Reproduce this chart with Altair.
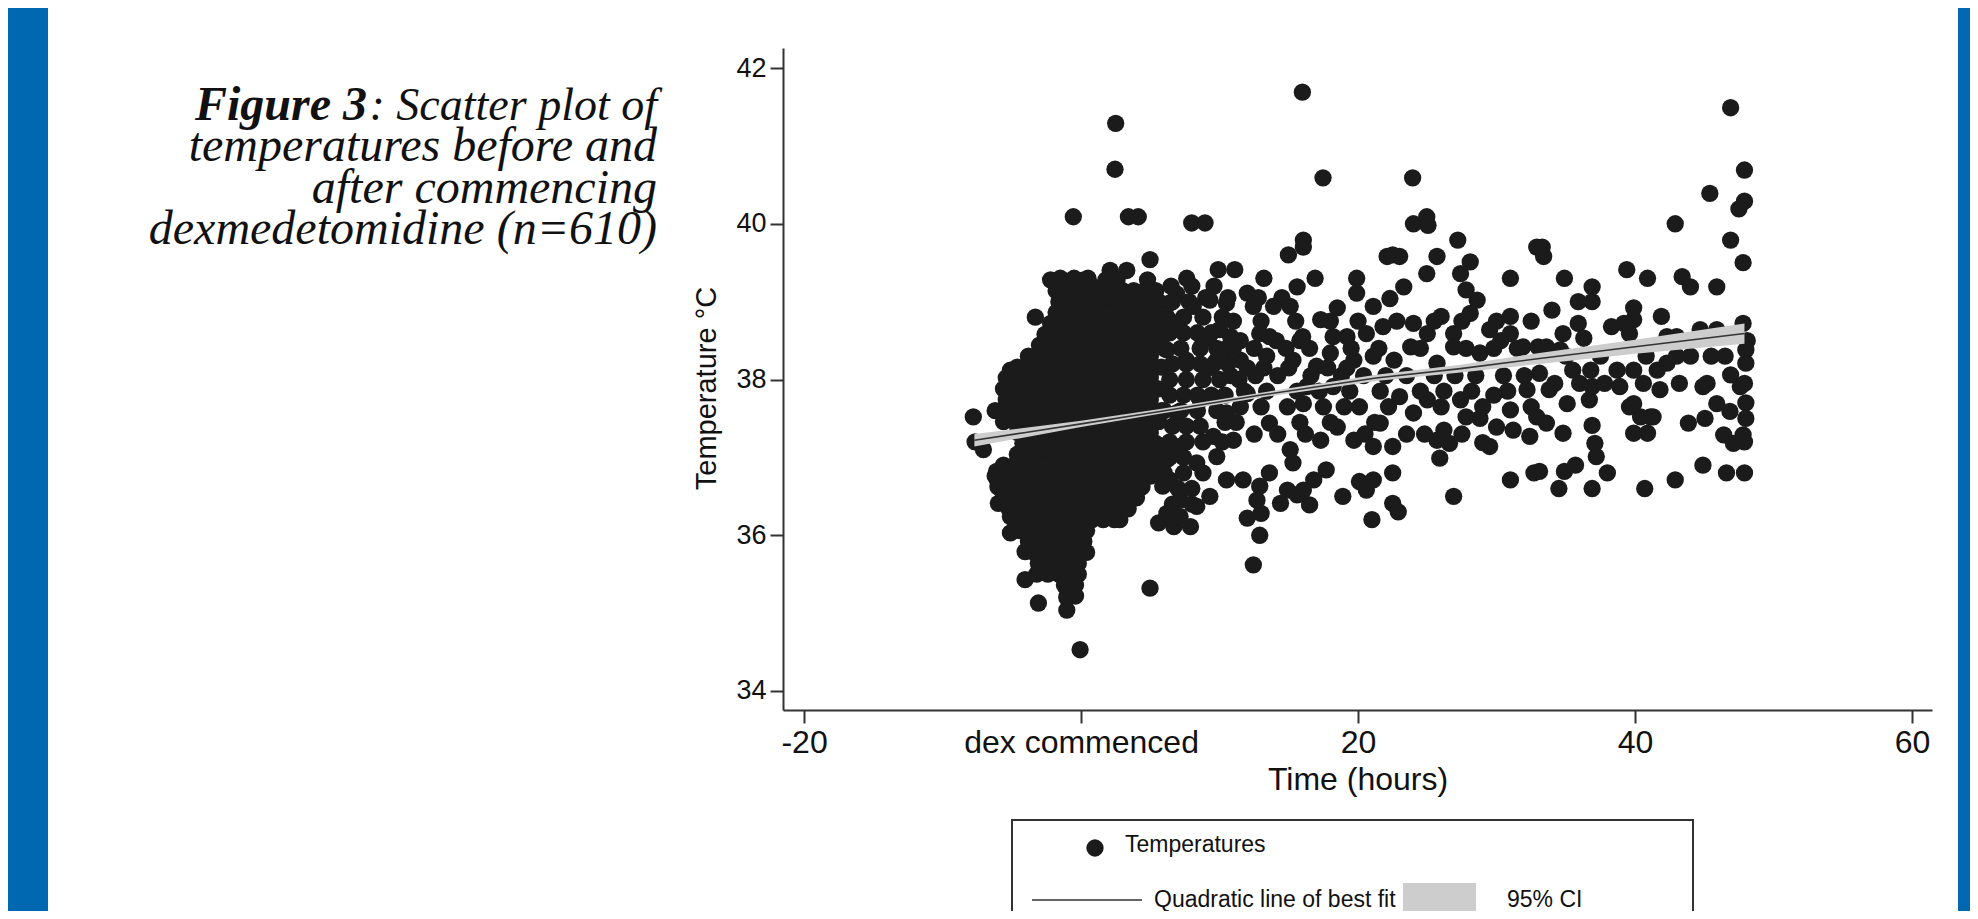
import altair as alt
import pandas as pd

# ---------------- data ----------------
# isolated / readable points (time in hours relative to dex start, temperature degC)
pts_time = [
    2.5, 2.45, -0.56, 3.42, 4.13, 4.98, -1.5, -0.5, 0.5, 0.9, 2.1, 3.3, 2.3, -3.3, -0.8, -2.0, -2.96, -5.1,
    -7.78, -7.65, -7.05, -5.6, -6.1, -6.0, -5.97, -5.1, -5.1, -4.04, -3.08, -4.04, -3.08, -1.03, -1.03, -1.03,
    -0.8, -0.07, 4.98, -0.07, 2.8, 5.6,
    15.98, 17.47, 23.94, 7.99, 8.95, 16.05, 14.97, 16.05, 22.5, 23.0, 22.1, 24.0, 24.96, 25.05, 27.2, 25.7,
    24.96, 28.1, 27.4, 31.0, 32.9,
    7.63, 9.9, 11.1, 13.2, 16.9, 15.6, 19.9, 19.9, 23.3, 22.3, 6.9, 6.4, 8.1, 9.3, 10.5, 12.0, 12.44, 13.9,
    15.1, 18.5, 21.1, 26.0, 27.8, 28.6, 28.1, 31.0, 31.0, 29.5, 31.9, 33.0,
    6.9, 8.8, 10.0, 11.5, 12.9, 14.1, 15.8, 17.3, 17.0, 18.0, 19.2, 20.6, 21.8, 24.0, 25.0, 23.8, 26.9, 26.9,
    25.7, 28.8, 30.3, 6.2, 7.6, 9.8, 11.5, 13.4, 15.3, 19.7, 21.1, 22.6,
    46.9, 47.9, 45.4, 47.9, 47.5, 42.9, 46.9, 47.8, 33.3, 33.4, 34.9, 36.9, 36.9, 35.9, 39.4, 40.9, 43.4, 44.0,
    45.9, 34.0, 39.9, 39.9, 41.9, 35.9, 34.8, 36.3, 38.3, 39.2, 39.6, 47.8, 44.7, 45.9, 42.3, 43.0, 48.1, 48.0,
    48.0, 44.0, 45.5, 42.3, 41.6, 33.6, 34.6, 36.8, 38.7, 39.9, 46.9, 33.1, 35.5,
    12.44, 12.9, 12.0, 13.0, 7.9, 6.7, 14.4, 16.5, 15.6, 18.9, 20.1, 21.1, 20.6, 21.0, 22.5, 22.9, 26.9, 25.9,
    22.5, 31.0, 32.7, 29.5, 29.0, 31.2, 32.4, 32.9, 32.2, 29.8, 28.8, 26.6, 26.2, 22.5, 21.1, 19.7, 18.5, 17.3,
    17.7, 16.8, 16.05, 14.9, 15.3, 15.1, 13.6, 12.9, 12.7, 11.7, 10.5, 9.3, 8.35, 7.15, 6.2, 7.15, 6.4, 6.2,
    7.15, 8.35, 9.8, 9.55, 11.0, 6.9, 8.6, 10.5, 12.0, 13.6, 14.9, 16.05, 16.3, 18.2, 20.1, 21.6, 23.0, 24.0,
    25.0, 27.4, 27.8, 25.7, 31.0, 30.0, 5.9,
    34.5, 36.9, 40.7, 42.9, 44.9, 46.6, 47.9, 34.9, 35.7, 33.1, 38.0, 37.2, 37.1, 36.9, 39.9, 40.9, 40.4, 39.6,
    41.1, 43.85, 45.05, 46.4, 47.8, 47.1, 47.9, 45.9, 46.85, 47.6, 44.9, 34.8, 33.6, 35.1, 33.8, 36.7, 36.9,
    38.9, 39.9, 41.3, 41.8, 48.0, 48.0,
]
pts_temp = [
    41.29, 40.70, 40.09, 40.09, 40.09, 39.54, 39.3, 39.3, 39.3, 39.19, 39.4, 39.4, 39.3, 38.8, 38.98, 38.5, 38.34, 38.12,
    37.52, 37.2, 37.1, 37.61, 36.82, 36.7, 36.41, 36.24, 36.03, 35.79, 35.64, 35.43, 35.13, 35.04, 35.2, 35.37,
    35.56, 34.53, 35.32, 35.9, 36.2, 36.16,
    41.69, 40.59, 40.59, 40.01, 40.01, 39.79, 39.6, 39.7, 39.6, 39.58, 39.58, 40.0, 40.09, 39.98, 39.79, 39.58,
    39.36, 39.51, 39.36, 39.3, 39.7,
    39.3, 39.41, 39.41, 39.3, 39.3, 39.19, 39.3, 39.11, 39.19, 39.04, 39.1, 38.98, 38.94, 39.02, 38.98, 39.11, 38.94, 38.94,
    38.94, 38.92, 38.94, 38.81, 39.15, 39.02, 38.85, 38.81, 38.59, 38.64, 38.42, 38.42,
    38.72, 38.5, 38.64, 38.5, 38.59, 38.5, 38.5, 38.77, 38.17, 38.34, 38.55, 38.59, 38.68, 38.72, 38.59, 38.42, 38.59, 38.42,
    38.21, 38.34, 38.5, 38.38, 38.25, 38.25, 38.25, 38.3, 38.25, 38.25, 38.3, 38.25,
    41.49, 40.69, 40.39, 40.29, 40.19, 40.0, 39.79, 39.5, 39.7, 39.58, 39.3, 39.19, 39.0, 39.0, 39.41, 39.3, 39.32, 39.19,
    39.19, 38.89, 38.92, 38.77, 38.81, 38.72, 38.59, 38.53, 38.68, 38.72, 38.59, 38.72, 38.64, 38.64, 38.55, 38.55, 38.5, 38.38,
    38.21, 38.3, 38.3, 38.21, 38.12, 38.42, 38.38, 38.12, 38.12, 38.12, 38.06, 38.08, 38.12,
    35.62, 36.0, 36.22, 36.28, 36.11, 36.11, 36.41, 36.39, 36.52, 36.5, 36.69, 36.71, 36.58, 36.2, 36.41, 36.3, 36.5, 36.99,
    36.8, 36.71, 36.8, 37.14, 37.19, 37.35, 37.27, 37.52, 37.87, 37.8, 37.5, 37.18, 37.35, 37.14, 37.14, 37.22, 37.39, 37.22,
    36.84, 36.71, 36.58, 36.58, 36.93, 37.1, 36.8, 36.63, 36.45, 36.71, 36.71, 36.5, 36.37, 36.45, 36.28, 36.24, 36.71, 36.97,
    37.14, 36.93, 37.01, 37.27, 37.22, 37.57, 37.74, 37.57, 37.82, 37.44, 37.65, 37.69, 37.91, 37.91, 37.65, 37.44, 37.78, 37.57,
    37.74, 37.74, 37.52, 37.22, 37.61, 37.39, 36.63,
    36.6, 36.6, 36.6, 36.71, 36.9, 36.8, 36.8, 36.82, 36.9, 36.82, 36.8, 37.01, 37.18, 37.41, 37.31, 37.31, 37.52, 37.65,
    37.52, 37.44, 37.5, 37.29, 37.29, 37.18, 37.2, 37.69, 37.59, 37.91, 37.91, 37.31, 37.44, 37.69, 37.87, 37.74, 37.91,
    37.91, 37.69, 37.52, 37.87, 37.7, 37.5,
]

# solid mass of readings around the start of dexmedetomidine (temperature row -> times)
dense_rows = [
    (39.28, [-2.2, -1.4, -0.6, 0.2, 1.8, 2.6, 4.8]),
    (39.14, [-1.8, -1.0, -0.2, 0.6, 1.4, 2.2, 3.0, 3.8, 4.6, 5.4]),
    (39.00, [-1.6, -0.8, 0.0, 0.8, 1.6, 2.4, 3.2, 4.0, 4.8, 5.6]),
    (38.86, [-1.8, -1.0, -0.2, 0.6, 1.4, 2.2, 3.0, 3.8, 4.6, 5.4]),
    (38.72, [-2.2, -1.4, -0.6, 0.2, 1.0, 1.8, 2.6, 3.4, 4.2, 5.0, 5.8]),
    (38.58, [-2.6, -1.8, -1.0, -0.2, 0.6, 1.4, 2.2, 3.0, 3.8, 4.6, 5.4]),
    (38.44, [-3.0, -2.2, -1.4, -0.6, 0.2, 1.0, 1.8, 2.6, 3.4, 4.2, 5.0, 5.8]),
    (38.30, [-3.8, -3.0, -2.2, -1.4, -0.6, 0.2, 1.0, 1.8, 2.6, 3.4, 4.2, 5.0]),
    (38.16, [-4.6, -3.8, -3.0, -2.2, -1.4, -0.6, 0.2, 1.0, 1.8, 2.6, 3.4, 4.2, 5.0, 5.8]),
    (38.02, [-5.4, -4.6, -3.8, -3.0, -2.2, -1.4, -0.6, 0.2, 1.0, 1.8, 2.6, 3.4, 4.2, 5.0]),
    (37.88, [-5.6, -4.8, -4.0, -3.2, -2.4, -1.6, -0.8, 0.0, 0.8, 1.6, 2.4, 3.2, 4.0, 4.8, 5.6]),
    (37.74, [-5.4, -4.6, -3.8, -3.0, -2.2, -1.4, -0.6, 0.2, 1.0, 1.8, 2.6, 3.4, 4.2, 5.0]),
    (37.60, [-6.2, -5.4, -4.6, -3.8, -3.0, -2.2, -1.4, -0.6, 0.2, 1.0, 1.8, 2.6, 3.4, 4.2, 5.0, 5.8]),
    (37.46, [-5.6, -4.8, -4.0, -3.2, -2.4, -1.6, -0.8, 0.0, 0.8, 1.6, 2.4, 3.2, 4.0, 4.8, 5.6]),
    (37.32, [-4.6, -3.8, -3.0, -2.2, -1.4, -0.6, 0.2, 1.0, 1.8, 2.6, 3.4, 4.2, 5.0]),
    (37.18, [-4.2, -3.4, -2.6, -1.8, -1.0, -0.2, 0.6, 1.4, 2.2, 3.0, 3.8, 4.6, 5.4]),
    (37.04, [-4.6, -3.8, -3.0, -2.2, -1.4, -0.6, 0.2, 1.0, 1.8, 2.6, 3.4, 4.2, 5.0, 5.8]),
    (36.90, [-5.6, -4.8, -4.0, -3.2, -2.4, -1.6, -0.8, 0.0, 0.8, 1.6, 2.4, 3.2, 4.0, 4.8, 5.6]),
    (36.76, [-6.2, -5.4, -4.6, -3.8, -3.0, -2.2, -1.4, -0.6, 0.2, 1.0, 1.8, 2.6, 3.4, 4.2, 5.0]),
    (36.62, [-6.0, -5.2, -4.4, -3.6, -2.8, -2.0, -1.2, -0.4, 0.4, 1.2, 2.0, 2.8, 3.6, 4.4]),
    (36.48, [-5.6, -4.8, -4.0, -3.2, -2.4, -1.6, -0.8, 0.0, 0.8, 1.6, 2.4, 3.2, 4.0]),
    (36.34, [-5.2, -4.4, -3.6, -2.8, -2.0, -1.2, -0.4, 0.4, 1.2, 2.0, 2.8, 3.4]),
    (36.20, [-4.8, -4.0, -3.2, -2.4, -1.6, -0.8, 0.0, 0.8, 1.6, 2.4]),
    (36.06, [-4.4, -3.6, -2.8, -2.0, -1.2, -0.4, 0.4]),
    (35.92, [-3.8, -3.0, -2.2, -1.4, -0.6, 0.2]),
    (35.78, [-3.4, -2.6, -1.8, -1.0, -0.2, 0.4]),
    (35.64, [-2.6, -1.8, -1.0, -0.2]),
    (35.50, [-3.2, -2.4, -1.6, -0.8, -0.2]),
    (35.36, [-1.2, -0.4]),
    (35.22, [-1.0, -0.4]),
    # continuation over the following hours
    (39.2, [6.5, 8.0, 9.6]),
    (39.05, [9.0, 10.6, 12.8, 14.5]),
    (39.0, [6.6, 7.8]),
    (38.8, [6.2, 7.4, 8.8, 10.2]),
    (38.6, [6.4, 7.4, 8.4, 9.4]),
    (38.55, [9.2, 10.8, 13.6, 16.0, 18.2]),
    (38.4, [6.0, 7.2, 8.6, 9.8, 11.0]),
    (38.2, [6.6, 7.6, 8.6, 9.6, 10.6]),
    (38.15, [9.2, 12.0, 13.2, 15.0, 17.8, 19.2]),
    (38.0, [6.4, 7.6, 8.8, 10.0, 11.4]),
    (37.8, [6.4, 7.4, 8.4, 9.4, 10.4]),
    (37.6, [6.0, 7.2, 8.4, 9.8]),
    (37.45, [10.4, 11.2, 15.8, 18.0, 21.2]),
    (37.4, [6.6, 7.6, 8.6]),
    (37.2, [6.4, 7.6, 8.8, 10.2]),
    (37.0, [6.4, 7.4]),
    (36.8, [6.0, 7.4, 8.8]),
    (36.6, [7.0, 8.0]),
    (36.4, [6.6, 8.0]),
    (38.75, [11.0, 13.0, 15.5, 18.0, 20.0, 22.8, 25.5, 27.5, 30.0, 32.5]),
    (38.4, [10.5, 12.5, 14.8, 16.5, 19.5, 21.5, 24.5, 27.8, 29.8, 31.5]),
    (38.05, [10.8, 12.6, 14.2, 16.6, 18.8, 20.4, 22.0, 23.5, 25.5, 27.0, 28.5, 30.5, 32.0]),
    (37.85, [11.8, 13.4, 15.6, 17.2, 19.4, 21.6, 24.5, 26.2, 28.2, 30.8]),
    (37.65, [11.5, 13.0, 17.5, 19.0, 22.2, 26.0, 29.0, 32.5]),
    (37.3, [12.5, 14.2, 16.2, 20.5, 23.5, 24.8, 27.5]),
    (37.95, [34.2, 36.0, 37.8, 40.6, 43.2, 45.2, 47.9]),
    (38.3, [35.0, 37.5, 40.8, 43.0, 46.5]),
]

# quadratic line of best fit and its 95% CI
fit_time = [-7.7, -4.0, 0.0, 5.7, 13.0, 21.3, 27.4, 33.1, 40.0, 47.9]
fit_temp = [37.22, 37.32, 37.43, 37.59, 37.80, 38.02, 38.14, 38.27, 38.42, 38.59]
ci_low = [37.14, 37.26, 37.39, 37.56, 37.77, 37.98, 38.09, 38.20, 38.33, 38.46]
ci_high = [37.30, 37.38, 37.47, 37.62, 37.83, 38.06, 38.19, 38.34, 38.51, 38.72]

x_ticks = [-20, 0, 20, 40, 60]
y_ticks = [34, 36, 38, 40, 42]

caption_bold = "Figure 3"
caption_rest_1 = ": Scatter plot of"
caption_lines = "temperatures before and\nafter commencing\ndexmedetomidine (n=610)"

# ---------------- build tables ----------------
rows_t, rows_y = [], []
for yv, xs in dense_rows:
    for xv in xs:
        rows_t.append(xv)
        rows_y.append(yv)
scatter_df = pd.DataFrame({"time": pts_time + rows_t, "temp": pts_temp + rows_y})
fit_df = pd.DataFrame({"time": fit_time, "temp": fit_temp, "lo": ci_low, "hi": ci_high})
one = alt.Data(values=[{"k": 1}])

SANS = "Liberation Sans, Arial, Helvetica, sans-serif"
SERIF = "Liberation Serif, Times New Roman, serif"
DOT = "#1b1b1b"
BLUE = "#0067b1"

x_scale = alt.Scale(domain=[-21.52, 61.44], nice=False, zero=False)
y_scale = alt.Scale(domain=[33.756, 42.257], nice=False, zero=False)

x_axis = alt.Axis(
    values=x_ticks, labelExpr="datum.value == 0 ? 'dex commenced' : '' + datum.value",
    title="Time (hours)", grid=False, tickSize=13, tickWidth=2, tickColor="#333",
    domainColor="#333", domainWidth=2, labelFont=SANS, labelFontSize=32, labelColor="#111",
    labelPadding=4, labelLimit=500, titleFont=SANS, titleFontSize=32, titleFontWeight="normal",
    titleColor="#111", titlePadding=6, labelFlush=False, labelOverlap=False,
)
y_axis = alt.Axis(
    values=y_ticks, labelExpr="'' + datum.value", title="Temperature °C", grid=False,
    tickSize=13, tickWidth=2, tickColor="#333", domainColor="#333", domainWidth=2,
    labelFont=SANS, labelFontSize=27, labelColor="#111", labelPadding=4, titleFont=SANS,
    titleFontSize=29, titleFontWeight="normal", titleColor="#111", titlePadding=14,
    titleY=340, labelFlush=False,
)

points = alt.Chart(scatter_df).mark_circle(size=300, color=DOT, opacity=1).encode(
    x=alt.X("time:Q", scale=x_scale, axis=x_axis),
    y=alt.Y("temp:Q", scale=y_scale, axis=y_axis),
)
band = alt.Chart(fit_df).mark_area(color="#cdcdcd", opacity=1).encode(
    x=alt.X("time:Q", scale=x_scale), y=alt.Y("lo:Q", scale=y_scale), y2="hi:Q"
)
line = alt.Chart(fit_df).mark_line(color="#333333", strokeWidth=1.6).encode(
    x=alt.X("time:Q", scale=x_scale), y=alt.Y("temp:Q", scale=y_scale)
)

# side bands of the slide
left_bar = alt.Chart(one).mark_rect(color=BLUE).encode(
    x=alt.value(-800), x2=alt.value(-735), y=alt.value(-60), y2=alt.value(900))
right_bar = alt.Chart(one).mark_rect(color=BLUE).encode(
    x=alt.value(1175), x2=alt.value(1220), y=alt.value(-60), y2=alt.value(900))

# caption
cap_bold = alt.Chart(one).mark_text(
    font=SERIF, fontSize=48, fontStyle="italic", fontWeight="bold", align="right",
    baseline="alphabetic", color="#111").encode(
    x=alt.value(-416), y=alt.value(72), text=alt.value(caption_bold))
cap_1 = alt.Chart(one).mark_text(
    font=SERIF, fontSize=46, fontStyle="italic", align="right",
    baseline="alphabetic", color="#111").encode(
    x=alt.value(-126), y=alt.value(72), text=alt.value(caption_rest_1))
cap_rest = alt.Chart(one).mark_text(
    font=SERIF, fontSize=48, fontStyle="italic", align="right", baseline="alphabetic",
    lineBreak="\n", lineHeight=41.5, color="#111").encode(
    x=alt.value(-126), y=alt.value(113), text=alt.value(caption_lines))

# legend box
leg_box = alt.Chart(one).mark_rect(fill="white", stroke="#333", strokeWidth=2).encode(
    x=alt.value(229), x2=alt.value(910), y=alt.value(772), y2=alt.value(920))
leg_dot = alt.Chart(one).mark_circle(size=300, color=DOT, opacity=1).encode(
    x=alt.value(312), y=alt.value(800))
leg_t1 = alt.Chart(one).mark_text(font=SANS, fontSize=23, align="left", baseline="middle",
                                  color="#111").encode(
    x=alt.value(342), y=alt.value(797), text=alt.value("Temperatures"))
leg_line = alt.Chart(one).mark_rule(color="#333", strokeWidth=1.6).encode(
    x=alt.value(249), x2=alt.value(359), y=alt.value(852))
leg_t2 = alt.Chart(one).mark_text(font=SANS, fontSize=23, align="left", baseline="middle",
                                  color="#111").encode(
    x=alt.value(371), y=alt.value(852), text=alt.value("Quadratic line of best fit"))
leg_sq = alt.Chart(one).mark_rect(color="#cdcdcd").encode(
    x=alt.value(620), x2=alt.value(693), y=alt.value(835), y2=alt.value(871))
leg_t3 = alt.Chart(one).mark_text(font=SANS, fontSize=23, align="left", baseline="middle",
                                  color="#111").encode(
    x=alt.value(724), y=alt.value(852), text=alt.value("95% CI"))

chart = alt.layer(
    left_bar, right_bar, points, band, line,
    cap_bold, cap_1, cap_rest,
    leg_box, leg_dot, leg_t1, leg_line, leg_t2, leg_sq, leg_t3,
).properties(
    width=1149, height=662,
    autosize=alt.AutoSizeParams(type="none"),
    padding={"left": 775, "top": 40, "right": 38, "bottom": 201},
    background="white",
).configure_view(stroke=None)

chart.save("out.html", embed_options={"renderer": "svg", "actions": False})
